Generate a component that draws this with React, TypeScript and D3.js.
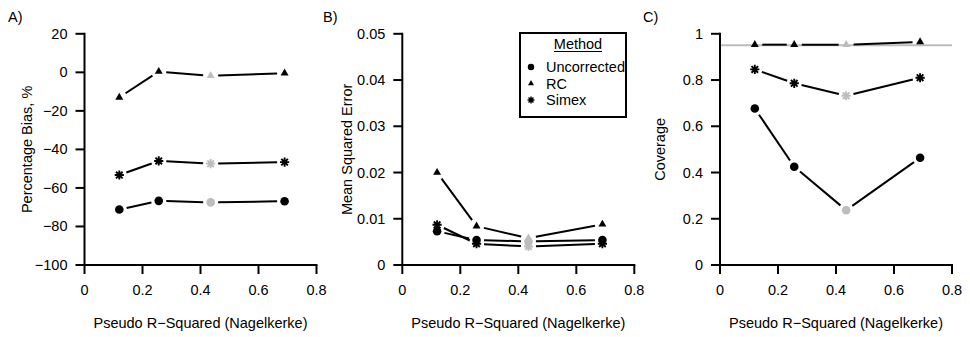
import React from "react";
import * as d3 from "d3";

const xVals = [0.12, 0.256, 0.435, 0.69];
const xTicks = [0, 0.2, 0.4, 0.6, 0.8];
const grayIndex = 2;

const biasUnc = [-71.2, -66.7, -67.5, -66.9];
const biasRC = [-13, 0.4, -1.8, -0.4];
const biasSimex = [-53.3, -46, -47.4, -46.6];
const biasTicks = [20, 0, -20, -40, -60, -80, -100];

const mseUnc = [0.0073, 0.0054, 0.0051, 0.0054];
const mseRC = [0.02, 0.0084, 0.0058, 0.0088];
const mseSimex = [0.0087, 0.0046, 0.004, 0.0046];
const mseTicks = [0, 0.01, 0.02, 0.03, 0.04, 0.05];

const covUnc = [0.677, 0.425, 0.237, 0.464];
const covRC = [0.953, 0.953, 0.953, 0.965];
const covSimex = [0.846, 0.786, 0.732, 0.81];
const covTicks = [0, 0.2, 0.4, 0.6, 0.8, 1];
const covTarget = 0.95;

const legendLabels = ["Uncorrected", "RC", "Simex"];

const FONT = "'Liberation Sans', Arial, Helvetica, sans-serif";
const FS = 14.5;
const GRAY = "#bdbdbd";

type Shape = "circle" | "triangle" | "asterisk";

function Marker({ shape, x, y, color, s = 1 }: { shape: Shape; x: number; y: number; color: string; s?: number }) {
  if (shape === "circle") return <circle cx={x} cy={y} r={4.3 * s} fill={color} />;
  if (shape === "triangle") {
    const r = 4.6 * s;
    const p = d3.path();
    p.moveTo(x, y - r);
    p.lineTo(x + r * Math.cos(Math.PI / 6), y + r / 2);
    p.lineTo(x - r * Math.cos(Math.PI / 6), y + r / 2);
    p.closePath();
    return <path d={p.toString()} fill={color} />;
  }
  const a = 4.6 * s;
  const b = 3.3 * s;
  const p = d3.path();
  p.moveTo(x - a, y); p.lineTo(x + a, y);
  p.moveTo(x, y - a); p.lineTo(x, y + a);
  p.moveTo(x - b, y - b); p.lineTo(x + b, y + b);
  p.moveTo(x - b, y + b); p.lineTo(x + b, y - b);
  return <path d={p.toString()} stroke={color} strokeWidth={1.9 * s} fill="none" />;
}

function Series({ vals, shape, xs, ys }: { vals: number[]; shape: Shape; xs: d3.ScaleLinear<number, number>; ys: d3.ScaleLinear<number, number> }) {
  const pts = vals.map((v, i) => [xs(xVals[i]), ys(v)] as [number, number]);
  const gap = 7.5;
  const segs = [] as React.ReactNode[];
  for (let i = 0; i < pts.length - 1; i++) {
    const [x1, y1] = pts[i];
    const [x2, y2] = pts[i + 1];
    const len = Math.hypot(x2 - x1, y2 - y1);
    if (len <= 2 * gap) continue;
    const ux = (x2 - x1) / len, uy = (y2 - y1) / len;
    const line = d3.line()([[x1 + ux * gap, y1 + uy * gap], [x2 - ux * gap, y2 - uy * gap]]);
    segs.push(<path key={"s" + i} d={line || ""} stroke="#000" strokeWidth={2} fill="none" />);
  }
  return (
    <g>
      {segs}
      {pts.map((p, i) => (
        <Marker key={"m" + i} shape={shape} x={p[0]} y={p[1]} color={i === grayIndex ? GRAY : "#000"} />
      ))}
    </g>
  );
}

function fmt(v: number) {
  const s = String(+v.toFixed(4));
  return s.replace("-", "\u2212");
}

function Panel({ left, label, labelX, yTitle, yTitleX, yTicks, series, extra }: any) {
  const top = 33.8, bottom = 265;
  const xs = d3.scaleLinear().domain([0, 0.8]).range([left, left + 232]);
  const ys = d3.scaleLinear().domain([d3.min(yTicks) as number, d3.max(yTicks) as number]).range([bottom, top]);
  return (
    <g fontFamily={FONT} fontSize={FS} fill="#000">
      <text x={labelX} y={21.5}>{label}</text>
      {extra ? extra(xs, ys) : null}
      <line x1={left} x2={left} y1={ys(d3.max(yTicks) as number)} y2={ys(d3.min(yTicks) as number)} stroke="#000" strokeWidth={2} strokeLinecap="square" />
      {yTicks.map((t: number) => (
        <g key={t}>
          <line x1={left - 9} x2={left} y1={ys(t)} y2={ys(t)} stroke="#000" strokeWidth={2} />
          <text x={left - 17} y={ys(t)} textAnchor="end" dominantBaseline="central">{fmt(t)}</text>
        </g>
      ))}
      <line x1={xs(0)} x2={xs(0.8)} y1={bottom} y2={bottom} stroke="#000" strokeWidth={2} strokeLinecap="square" />
      {xTicks.map((t) => (
        <g key={t}>
          <line x1={xs(t)} x2={xs(t)} y1={bottom} y2={bottom + 9} stroke="#000" strokeWidth={2} />
          <text x={xs(t)} y={290} textAnchor="middle" dominantBaseline="central">{fmt(t)}</text>
        </g>
      ))}
      <text x={(xs(0) + xs(0.8)) / 2} y={323} textAnchor="middle" dominantBaseline="central">Pseudo R{"\u2212"}Squared (Nagelkerke)</text>
      <text transform={`translate(${yTitleX},${(top + bottom) / 2}) rotate(-90)`} textAnchor="middle" dominantBaseline="central">{yTitle}</text>
      {series.map((s: any, i: number) => (
        <Series key={i} vals={s.vals} shape={s.shape} xs={xs} ys={ys} />
      ))}
    </g>
  );
}

function Legend() {
  const shapes: Shape[] = ["circle", "triangle", "asterisk"];
  const rowY = [67, 83.5, 100];
  return (
    <g fontFamily={FONT} fontSize={FS}>
      <rect x={520} y={33} width={106} height={84} fill="#fff" stroke="#000" strokeWidth={2} />
      <text x={578} y={44} textAnchor="middle" dominantBaseline="central">Method</text>
      <line x1={554} x2={602} y1={51.5} y2={51.5} stroke="#000" strokeWidth={1.2} />
      {legendLabels.map((l, i) => (
        <g key={l}>
          <Marker shape={shapes[i]} x={531} y={rowY[i]} color="#000" s={0.75} />
          <text x={546} y={rowY[i]} dominantBaseline="central">{l}</text>
        </g>
      ))}
    </g>
  );
}

export default function App() {
  return (
    <svg width={970} height={337} style={{ position: "absolute", left: 0, top: 0, background: "#fff" }}>
      <rect width={970} height={337} fill="#fff" />
      <Panel
        left={84.5}
        label="A)"
        labelX={8}
        yTitle="Percentage Bias, %"
        yTitleX={27}
        yTicks={biasTicks}
        series={[
          { vals: biasUnc, shape: "circle" },
          { vals: biasRC, shape: "triangle" },
          { vals: biasSimex, shape: "asterisk" },
        ]}
      />
      <Panel
        left={402.3}
        label="B)"
        labelX={323}
        yTitle="Mean Squared Error"
        yTitleX={347}
        yTicks={mseTicks}
        series={[
          { vals: mseUnc, shape: "circle" },
          { vals: mseRC, shape: "triangle" },
          { vals: mseSimex, shape: "asterisk" },
        ]}
      />
      <Panel
        left={720}
        label="C)"
        labelX={643}
        yTitle="Coverage"
        yTitleX={660}
        yTicks={covTicks}
        extra={(xs: any, ys: any) => (
          <line x1={xs(0)} x2={xs(0.8)} y1={ys(covTarget)} y2={ys(covTarget)} stroke={GRAY} strokeWidth={2} />
        )}
        series={[
          { vals: covUnc, shape: "circle" },
          { vals: covRC, shape: "triangle" },
          { vals: covSimex, shape: "asterisk" },
        ]}
      />
      <Legend />
    </svg>
  );
}
